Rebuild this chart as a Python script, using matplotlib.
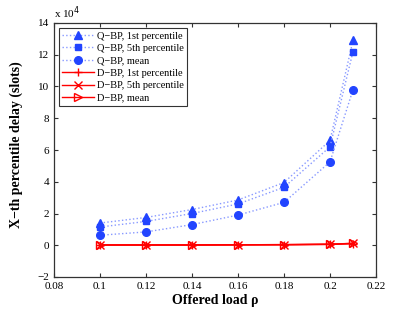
import matplotlib
matplotlib.use("Agg")
import matplotlib.pyplot as plt

plt.rcParams['font.family'] = ['Liberation Serif', 'DejaVu Serif']

load = [0.10, 0.12, 0.14, 0.16, 0.18, 0.20, 0.21]
qbp_p1 = [1.40, 1.75, 2.25, 2.85, 3.95, 6.60, 12.9]
qbp_p5 = [1.15, 1.50, 2.00, 2.60, 3.65, 6.20, 12.2]
qbp_mean = [0.63, 0.84, 1.30, 1.90, 2.70, 5.25, 9.80]
dbp_p1 = [0.01, 0.01, 0.01, 0.02, 0.03, 0.05, 0.10]
dbp_p5 = [0.02, 0.02, 0.02, 0.03, 0.04, 0.07, 0.12]
dbp_mean = [0.02, 0.02, 0.02, 0.03, 0.04, 0.06, 0.12]

scale = 1e4
blue = '#2244ff'
lblue = '#8899ff'
red = '#ff0000'

fig = plt.figure(figsize=(4.15, 3.12), dpi=100)
ax = fig.add_axes([54/415, 35/312, 322/415, 254/312])

def qline(y, m, lab, ms=5.5):
    ax.plot(load, [v * scale for v in y], linestyle=':', color=lblue, lw=1.0,
            marker=m, markersize=ms, markerfacecolor=blue, markeredgecolor=blue, label=lab)

def dline(y, m, lab, fill=True):
    ax.plot(load, [v * scale for v in y], linestyle='-', color=red, lw=1.0,
            marker=m, markersize=6, markerfacecolor='none' if not fill else red,
            markeredgecolor=red, markeredgewidth=1.0, label=lab)

qline(qbp_p1, '^', 'Q\u2212BP, 1st percentile')
qline(qbp_p5, 's', 'Q\u2212BP, 5th percentile', ms=5)
qline(qbp_mean, 'o', 'Q\u2212BP, mean')
dline(dbp_p1, '+', 'D\u2212BP, 1st percentile')
dline(dbp_p5, 'x', 'D\u2212BP, 5th percentile')
dline(dbp_mean, '>', 'D\u2212BP, mean', fill=False)

ax.set_xlim(0.08, 0.22)
ax.set_ylim(-2e4, 14e4)
ax.set_xticks([0.08, 0.10, 0.12, 0.14, 0.16, 0.18, 0.20, 0.22])
ax.set_xticklabels(['0.08', '0.1', '0.12', '0.14', '0.16', '0.18', '0.2', '0.22'])
yt = [-2, 0, 2, 4, 6, 8, 10, 12, 14]
ax.set_yticks([v * scale for v in yt])
ax.set_yticklabels([str(v).replace('-', '\u2212') for v in yt])
ax.tick_params(direction='in', labelsize=8, length=3, top=True, right=True, color='#333333')
for s in ax.spines.values():
    s.set_linewidth(0.9)
    s.set_color('#333333')
ax.set_xlabel('Offered load \u03c1', fontsize=10, fontweight='bold', labelpad=2)
ax.set_ylabel('X\u2212th percentile delay (slots)', fontsize=10, fontweight='bold', labelpad=1)
ax.yaxis.set_label_coords(-0.095, 0.52)
fig.text(54/415, 289/312 + 0.005, 'x 10$^4$', fontsize=8, ha='left', va='bottom')

leg = ax.legend(loc='upper left', fontsize=7.5, frameon=True, fancybox=False,
                edgecolor='black', borderpad=0.3, labelspacing=0.3,
                handlelength=3.0, handletextpad=0.3, borderaxespad=0.5)
leg.get_frame().set_linewidth(0.8)

fig.savefig('out.png', dpi=100)
